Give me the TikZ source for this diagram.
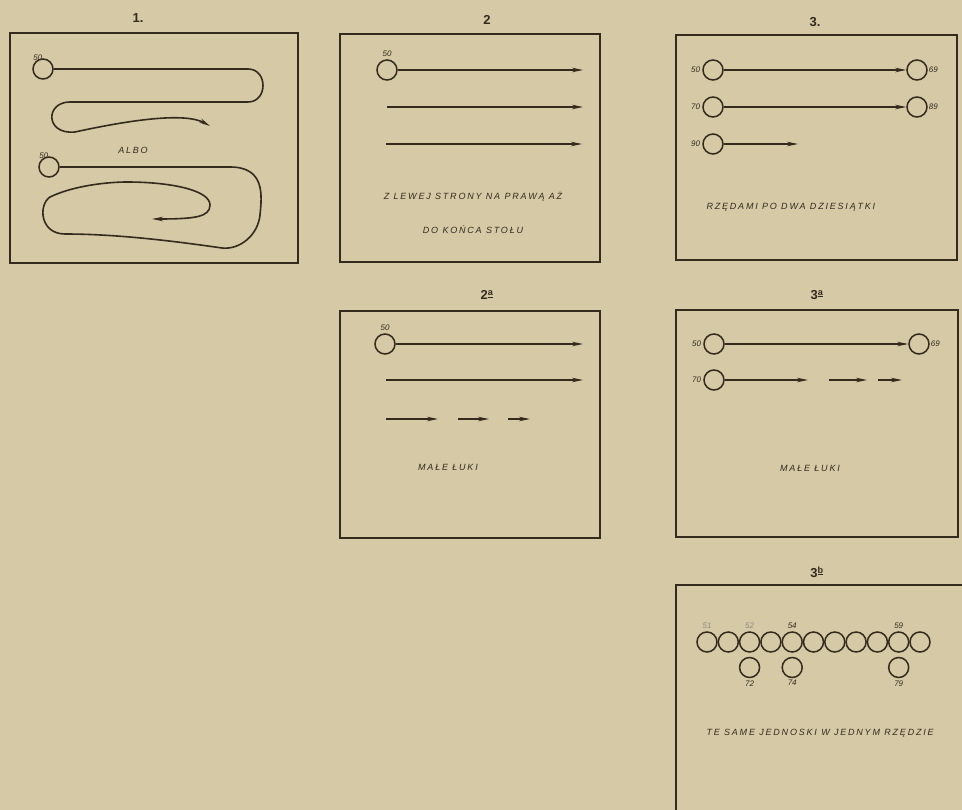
\documentclass[tikz,border=0pt]{standalone}
\usepackage{fontspec}
\setmainfont{Liberation Sans}
\newfontfamily\hand[LetterSpace=20]{Liberation Sans}
\usetikzlibrary{arrows.meta,positioning}

\definecolor{paper}{RGB}{214,201,166}
\definecolor{ink}{RGB}{52,42,30}

\tikzset{
  frame/.style={draw=ink, line width=2.6pt},
  bead/.style={circle, draw=ink, line width=1.5pt, minimum size=20pt, inner sep=0pt},
  run/.style={draw=ink, line width=1.5pt, -{Stealth[length=11pt,width=4.5pt]}},
  trail/.style={draw=ink, line width=1.6pt, -{Stealth[length=11pt,width=4.5pt]}},
  num/.style={font=\itshape\fontsize{8}{9}\selectfont, text=ink, inner sep=1pt},
  note/.style={font=\hand\itshape\fontsize{9}{10}\selectfont, text=ink},
  title/.style={font=\bfseries\fontsize{13}{14}\selectfont, text=ink},
}

\begin{document}
\begin{tikzpicture}[x=1pt, y=-1pt]
  \useasboundingbox (0,0) rectangle (962,810);
  \fill[paper] (0,0) rectangle (962,810);

  % Panel 1: two ways round the table
  \node[title] (t1) at (138,18) {1.};
  \draw[frame] (10,33) rectangle (298,263);
  \node[bead] (p1a) at (43,69) {};
  \node[num, above left=0pt and -8pt of p1a] (n1a) {50};
  \coordinate (e1a) at (210,126);
  \draw[trail] (p1a) -- (248,69) .. controls (268,69) and (268,102) .. (248,102)
    -- (70,102) .. controls (45,102) and (45,135) .. (75,132)
    .. controls (130,120) and (185,112) .. (e1a);
  \node[note] (albo) at (133,150) {ALBO};
  \node[bead] (p1b) at (49,167) {};
  \node[num, above left=0pt and -8pt of p1b] (n1b) {50};
  \coordinate (e1b) at (152,219);
  \draw[trail] (p1b) -- (230,167) .. controls (265,167) and (262,195) .. (260,215)
    .. controls (258,235) and (240,250) .. (222,248)
    .. controls (180,242) and (120,234) .. (65,234)
    .. controls (40,234) and (38,205) .. (50,197)
    .. controls (75,185) and (110,182) .. (127,182)
    .. controls (170,182) and (210,190) .. (210,205)
    .. controls (210,217) and (195,219) .. (e1b);

  % Panel 2
  \node[title] (t2) at (487,20) {2};
  \draw[frame] (340,34) rectangle (600,262);
  \node[bead] (p2) at (387,70) {};
  \node[num, above=1pt of p2] (n2) {50};
  \coordinate (e2a) at (583,70);
  \coordinate (s2b) at (387,107);
  \coordinate (e2b) at (583,107);
  \coordinate (s2c) at (386,144);
  \coordinate (e2c) at (582,144);
  \draw[run] (p2) -- (e2a);
  \draw[run] (s2b) -- (e2b);
  \draw[run] (s2c) -- (e2c);
  \node[note] (txt2a) at (473,197) {Z LEWEJ STRONY NA PRAWĄ AŻ};
  \node[note] (txt2b) at (473,230) {DO KOŃCA STOŁU};

  % Panel 3
  \node[title] (t3) at (815,22) {3.};
  \draw[frame] (676,35) rectangle (957,260);
  \node[bead] (p3a) at (713,70) {};
  \node[bead] (q3a) at (917,70) {};
  \node[bead] (p3b) at (713,107) {};
  \node[bead] (q3b) at (917,107) {};
  \node[bead] (p3c) at (713,144) {};
  \coordinate (e3c) at (798,144);
  \node[num, left=1pt of p3a] {50};
  \node[num, left=1pt of p3b] {70};
  \node[num, left=1pt of p3c] {90};
  \node[num, right=0pt of q3a] {69};
  \node[num, right=0pt of q3b] {89};
  \draw[run] (p3a) -- (q3a);
  \draw[run] (p3b) -- (q3b);
  \draw[run] (p3c) -- (e3c);
  \node[note, anchor=west] (txt3) at (703,207) {RZĘDAMI PO DWA DZIESIĄTKI};

  % Panel 2a
  \node[title] (t2a) at (487,295) {2\textsuperscript{\underline{a}}};
  \draw[frame] (340,311) rectangle (600,538);
  \node[bead] (p4) at (385,344) {};
  \node[num, above=1pt of p4] {50};
  \coordinate (e4a) at (583,344);
  \coordinate (s4b) at (386,380);
  \coordinate (e4b) at (583,380);
  \draw[run] (p4) -- (e4a);
  \draw[run] (s4b) -- (e4b);
  \foreach \a/\b [count=\k] in {386/438, 458/489, 508/530}{
    \coordinate (g4s\k) at (\a,419);
    \coordinate (g4e\k) at (\b,419);
    \draw[run] (g4s\k) -- (g4e\k);
  }
  \node[note] (txt4) at (448,467) {MAŁE ŁUKI};

  % Panel 3a
  \node[title] (t3a) at (817,295) {3\textsuperscript{\underline{a}}};
  \draw[frame] (676,310) rectangle (958,537);
  \node[bead] (p5a) at (714,344) {};
  \node[bead] (q5a) at (919,344) {};
  \node[bead] (p5b) at (714,380) {};
  \node[num, left=1pt of p5a] {50};
  \node[num, left=1pt of p5b] {70};
  \node[num, right=0pt of q5a] {69};
  \draw[run] (p5a) -- (q5a);
  \coordinate (e5b) at (808,380);
  \draw[run] (p5b) -- (e5b);
  \foreach \a/\b [count=\k] in {829/867, 878/902}{
    \coordinate (g5s\k) at (\a,380);
    \coordinate (g5e\k) at (\b,380);
    \draw[run] (g5s\k) -- (g5e\k);
  }
  \node[note] (txt5) at (810,468) {MAŁE ŁUKI};

  % Panel 3b: one long row
  \node[title] (t3b) at (817,572) {3\textsuperscript{\underline{b}}};
  \draw[frame] (676,810) -- (676,585) -- (962,585);
  \foreach \i in {0,...,10}
    \node[bead] (b\i) at ({707+21.3*\i},642) {};
  \node[bead, below=4pt of b2] (l2) {};
  \node[bead, below=4pt of b4] (l4) {};
  \node[bead, below=4pt of b9] (l9) {};
  \node[num, above=1pt of b0, text=ink!55] {51};
  \node[num, above=1pt of b2, text=ink!55] {52};
  \node[num, above=1pt of b4] {54};
  \node[num, above=1pt of b9] {59};
  \node[num, below=1pt of l2] {72};
  \node[num, below=1pt of l4] {74};
  \node[num, below=1pt of l9] {79};
  \node[note, anchor=west] (txt6) at (703,733) {TE SAME JEDNOSKI W JEDNYM RZĘDZIE};
\end{tikzpicture}
\end{document}
